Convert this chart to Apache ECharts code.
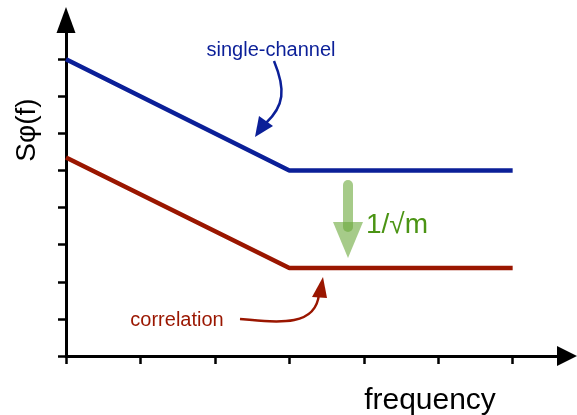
<!DOCTYPE html>
<html>
<head>
<meta charset="utf-8">
<script src="https://cdn.jsdelivr.net/npm/echarts@6/dist/echarts.min.js"></script>
<style>
  html, body { margin: 0; padding: 0; background: #fff; }
  #chart { width: 577px; height: 415px; }
</style>
</head>
<body>
<div id="chart"></div>
<script>
// frequency breakpoints and the two noise levels
const freq = [0, 3, 6]
const singleChannel = [8, 5, 5]
const correlation = [5.35, 2.37, 2.37]
const xTicks = [0, 1, 2, 3, 4, 5, 6]
const yTicks = [0, 1, 2, 3, 4, 5, 6, 7, 8]

const font = '"Liberation Sans", Arial, Helvetica, sans-serif'
const blue = '#0b1f98'
const red = '#9a1600'
const green = '#6aa83a'

const pairs = (xs, ys) => xs.map((x, i) => [x, ys[i]])

var myChart = echarts.init(document.getElementById('chart'))
myChart.setOption({
  animation: false,
  grid: { left: 66, right: 10, top: 20, bottom: 59 },
  xAxis: {
    type: 'value',
    min: 0,
    max: 6.73,
    splitLine: { show: false },
    axisLabel: { show: false },
    axisLine: {
      lineStyle: { color: '#000', width: 3 },
      symbol: ['none', 'triangle'],
      symbolSize: [20, 20]
    },
    axisTick: { customValues: xTicks, length: 8, lineStyle: { color: '#000', width: 2.5 } }
  },
  yAxis: {
    type: 'value',
    min: 0,
    max: 9.06,
    splitLine: { show: false },
    axisLabel: { show: false },
    axisLine: {
      show: true,
      lineStyle: { color: '#000', width: 3 },
      symbol: ['none', 'triangle'],
      symbolSize: [19, 26]
    },
    axisTick: { show: true, customValues: yTicks, length: 8, lineStyle: { color: '#000', width: 2.5 } }
  },
  series: [
    {
      name: 'single-channel',
      type: 'line',
      showSymbol: false,
      data: pairs(freq, singleChannel),
      lineStyle: { color: blue, width: 4.5 }
    },
    {
      name: 'correlation',
      type: 'line',
      showSymbol: false,
      data: pairs(freq, correlation),
      lineStyle: { color: red, width: 4.5 }
    }
  ],
  graphic: [
    // axis titles
    { type: 'text', x: 430, y: 401, style: { text: 'frequency', font: '30px ' + font, fill: '#000', align: 'center', verticalAlign: 'middle' } },
    { type: 'text', x: 27, y: 130, rotation: Math.PI / 2, style: { text: 'Sφ(f)', font: '28px ' + font, fill: '#000', align: 'center', verticalAlign: 'middle' } },
    // single-channel note
    { type: 'text', x: 271, y: 50, style: { text: 'single-channel', font: '20px ' + font, fill: blue, align: 'center', verticalAlign: 'middle' } },
    { type: 'bezierCurve', shape: { x1: 274, y1: 61, cpx1: 286, cpy1: 90, cpx2: 284, cpy2: 106, x2: 266, y2: 123 }, style: { stroke: blue, lineWidth: 2.5, fill: null } },
    { type: 'polygon', shape: { points: [[255, 137], [259, 116], [273, 126]] }, style: { fill: blue } },
    // correlation note
    { type: 'text', x: 177, y: 320, style: { text: 'correlation', font: '20px ' + font, fill: red, align: 'center', verticalAlign: 'middle' } },
    { type: 'bezierCurve', shape: { x1: 240, y1: 319, cpx1: 282, cpy1: 323, cpx2: 316, cpy2: 326, x2: 319, y2: 294 }, style: { stroke: red, lineWidth: 2.5, fill: null } },
    { type: 'polygon', shape: { points: [[323, 277], [312, 297], [327, 298]] }, style: { fill: red } },
    // 1/sqrt(m) arrow
    { type: 'rect', shape: { x: 343, y: 180, width: 10, height: 52, r: 5 }, style: { fill: green, opacity: 0.6 } },
    { type: 'polygon', shape: { points: [[333, 222], [363, 222], [348, 258]] }, style: { fill: green, opacity: 0.6 } },
    { type: 'text', x: 366, y: 225, style: { text: '1/√m', font: '28px ' + font, fill: '#4b9414', align: 'left', verticalAlign: 'middle' } }
  ]
})
</script>
</body>
</html>
